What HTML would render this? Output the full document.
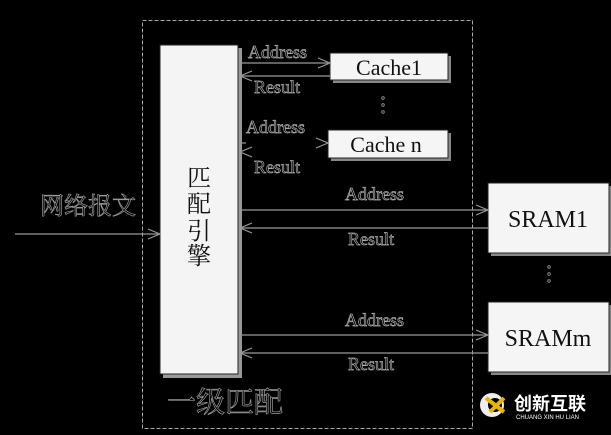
<!DOCTYPE html>
<html><head><meta charset="utf-8"><style>
html,body{margin:0;padding:0;background:#000;width:611px;height:435px;overflow:hidden}
svg{display:block}
.lbl{font-family:"Liberation Serif",serif;font-size:18px;fill:#000;stroke:#aaa;stroke-width:0.7}
.box{font-family:"Liberation Serif",serif;fill:#111}
</style></head><body>
<svg width="611" height="435" viewBox="0 0 611 435">
<rect width="611" height="435" fill="#000"/>
<rect x="142.5" y="20.5" width="330" height="408" fill="none" stroke="#aaa" stroke-width="1" stroke-dasharray="4,2"/>
<rect x="163" y="48" width="79" height="330" fill="#999"/>
<rect x="160" y="45" width="78" height="329" fill="#f4f4f4" stroke="#222"/>
<text font-family="'Liberation Serif','Noto Serif CJK SC',serif" font-size="24" fill="#111" x="199" y="186" text-anchor="middle">匹</text>
<text font-family="'Liberation Serif','Noto Serif CJK SC',serif" font-size="24" fill="#111" x="199" y="212" text-anchor="middle">配</text>
<text font-family="'Liberation Serif','Noto Serif CJK SC',serif" font-size="24" fill="#111" x="199" y="239" text-anchor="middle">引</text>
<text font-family="'Liberation Serif','Noto Serif CJK SC',serif" font-size="24" fill="#111" x="199" y="264" text-anchor="middle">擎</text>
<rect x="333" y="56" width="118" height="27" fill="#888"/>
<rect x="330" y="53" width="118" height="27" fill="#f5f5f5" stroke="#222"/>
<text class="box" x="389" y="75" font-size="22" text-anchor="middle">Cache1</text>
<rect x="331" y="133" width="120" height="28" fill="#888"/>
<rect x="328" y="130" width="120" height="28" fill="#f5f5f5" stroke="#222"/>
<text class="box" x="386" y="152" font-size="22" text-anchor="middle">Cache n</text>
<rect x="491" y="186" width="121" height="70" fill="#888"/>
<rect x="488" y="183" width="121" height="70" fill="#f5f5f5" stroke="#222"/>
<text class="box" x="548" y="227" font-size="24" text-anchor="middle">SRAM1</text>
<rect x="491" y="305" width="121" height="70" fill="#888"/>
<rect x="488" y="302" width="121" height="70" fill="#f5f5f5" stroke="#222"/>
<text class="box" x="548" y="346" font-size="24" text-anchor="middle">SRAMm</text>
<g fill="none" stroke="#999" stroke-width="0.8">
<circle cx="383" cy="98" r="1.3"/><circle cx="383" cy="105" r="1.3"/><circle cx="383" cy="112" r="1.3"/>
<circle cx="549" cy="267" r="1.3"/><circle cx="549" cy="274" r="1.3"/><circle cx="549" cy="281" r="1.3"/>
</g>
<g stroke="#999" stroke-width="1.2" fill="none">
<line x1="15" y1="234" x2="158" y2="234"/>
<path d="M148,229 L160,234 L148,239"/>
<line x1="240" y1="63" x2="328" y2="63"/>
<path d="M318,58 L330,63 L318,68"/>
<line x1="330" y1="76" x2="241" y2="76"/>
<path d="M252,71 L240,76 L252,81"/>
<path d="M316,138 L328,143 L316,148"/>
<line x1="240" y1="143" x2="246" y2="143"/>
<path d="M252,147 L240,152 L252,157"/>
<line x1="240" y1="210" x2="486" y2="210"/>
<path d="M476,205 L488,210 L476,215"/>
<line x1="488" y1="228" x2="241" y2="228"/>
<path d="M252,223 L240,228 L252,233"/>
<line x1="240" y1="335" x2="486" y2="335"/>
<path d="M476,330 L488,335 L476,340"/>
<line x1="488" y1="353" x2="241" y2="353"/>
<path d="M252,348 L240,353 L252,358"/>
</g>
<text class="lbl" x="248" y="58">Address</text>
<text class="lbl" x="254" y="93">Result</text>
<text class="lbl" x="246" y="133">Address</text>
<text class="lbl" x="254" y="173">Result</text>
<text class="lbl" x="345" y="200">Address</text>
<text class="lbl" x="348" y="245">Result</text>
<text class="lbl" x="345" y="326">Address</text>
<text class="lbl" x="348" y="370">Result</text>
<text font-family="'Liberation Serif','Noto Serif CJK SC',serif" font-size="24" fill="#000" stroke="#999" stroke-width="0.7" x="40" y="214">网络报文</text>
<text font-family="'Liberation Serif','Noto Serif CJK SC',serif" font-size="29" fill="#000" stroke="#999" stroke-width="0.7" x="167" y="412">一级匹配</text>
<circle cx="492" cy="405" r="12" fill="#eee"/>
<circle cx="495" cy="405" r="7" fill="#000"/>
<path d="M486,398 L504,412 M504,398 L490,412" stroke="#e8b400" stroke-width="4"/>
<text font-family="'Noto Sans CJK SC',sans-serif" font-size="18" font-weight="bold" fill="#fff" x="514" y="410">创新互联</text>
<text font-family="'Liberation Sans',sans-serif" font-size="6" fill="#fff" x="516" y="419">CHUANG XIN HU LIAN</text>
</svg>
</body></html>
